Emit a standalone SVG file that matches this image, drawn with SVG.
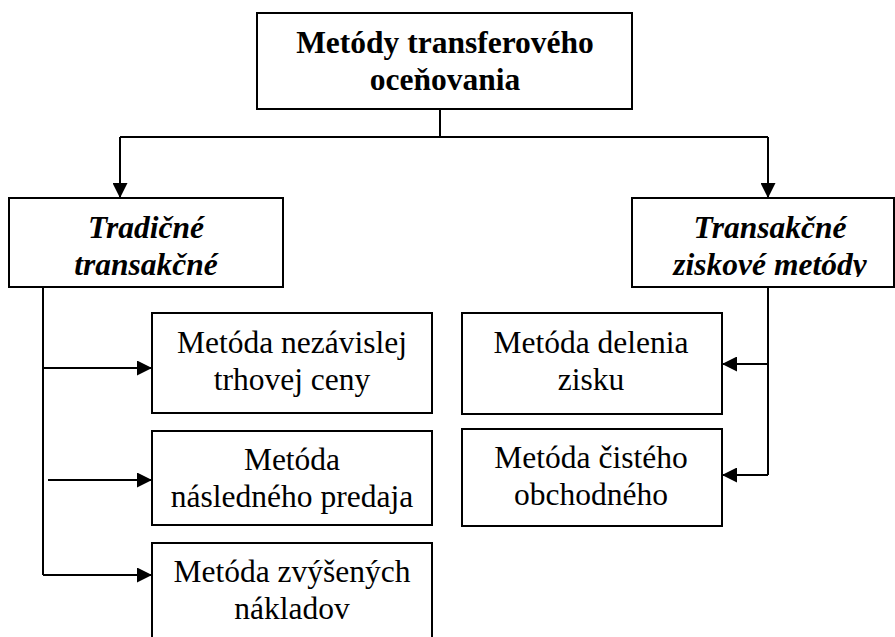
<svg xmlns="http://www.w3.org/2000/svg" width="895" height="637" viewBox="0 0 895 637">
<style>
  .box { fill: #ffffff; stroke: #000000; stroke-width: 2; }
  .ln { fill: none; stroke: #000000; stroke-width: 2; }
</style>
<defs>
  <marker id="arr" markerWidth="15" markerHeight="15" refX="15" refY="7.5" orient="auto" markerUnits="userSpaceOnUse">
    <path d="M0,0 L15,7.5 L0,15 Z" fill="#000000"/>
  </marker>
  <clipPath id="clipR"><rect x="632" y="198" width="263" height="79"/></clipPath>
</defs>
<rect width="895" height="637" fill="#ffffff"/>
<g id="connectors">
  <path class="ln" d="M440,109 V137"/>
  <path class="ln" d="M120,137 H768"/>
  <path class="ln" d="M120,137 V198" marker-end="url(#arr)"/>
  <path class="ln" d="M768,137 V198" marker-end="url(#arr)"/>
  <path class="ln" d="M43,287 V575"/>
  <path class="ln" d="M43,368 H152" marker-end="url(#arr)"/>
  <path class="ln" d="M48,480 H152" marker-end="url(#arr)"/>
  <path class="ln" d="M43,575 H152" marker-end="url(#arr)"/>
  <path class="ln" d="M768,287 V475"/>
  <path class="ln" d="M768,364 H722" marker-end="url(#arr)"/>
  <path class="ln" d="M768,475 H722" marker-end="url(#arr)"/>
</g>
<g id="root" font-family="Liberation Serif" font-size="31.5" font-weight="bold" text-anchor="middle" fill="#000000">
  <rect class="box" x="257" y="13" width="375" height="96"/>
  <text x="445" y="53">Metódy transferového</text>
  <text x="445" y="90">oceňovania</text>
</g>
<g id="traditional" font-family="Liberation Serif" font-size="31.5" font-weight="bold" font-style="italic" text-anchor="middle" fill="#000000">
  <rect class="box" x="9" y="198" width="274" height="89"/>
  <text x="146" y="238">Tradičné</text>
  <text x="146" y="275">transakčné</text>
</g>
<g id="profit" font-family="Liberation Serif" font-size="31.5" font-weight="bold" font-style="italic" text-anchor="middle" fill="#000000">
  <rect class="box" x="632" y="198" width="262" height="89"/>
  <g clip-path="url(#clipR)">
    <text x="770" y="238">Transakčné</text>
    <text x="770" y="275">ziskové metódy</text>
  </g>
</g>
<g id="m1" font-family="Liberation Serif" font-size="31.5" text-anchor="middle" fill="#000000">
  <rect class="box" x="152" y="313" width="280" height="100"/>
  <text x="292" y="353">Metóda nezávislej</text>
  <text x="292" y="390">trhovej ceny</text>
</g>
<g id="m2" font-family="Liberation Serif" font-size="31.5" text-anchor="middle" fill="#000000">
  <rect class="box" x="152" y="431" width="280" height="94"/>
  <text x="292" y="470">Metóda</text>
  <text x="292" y="507">následného predaja</text>
</g>
<g id="m3" font-family="Liberation Serif" font-size="31.5" text-anchor="middle" fill="#000000">
  <rect class="box" x="152" y="543" width="280" height="120"/>
  <text x="292" y="582">Metóda zvýšených</text>
  <text x="292" y="619">nákladov</text>
</g>
<g id="m4" font-family="Liberation Serif" font-size="31.5" text-anchor="middle" fill="#000000">
  <rect class="box" x="462" y="313" width="260" height="101"/>
  <text x="591" y="353">Metóda delenia</text>
  <text x="591" y="390">zisku</text>
</g>
<g id="m5" font-family="Liberation Serif" font-size="31.5" text-anchor="middle" fill="#000000">
  <rect class="box" x="462" y="429" width="260" height="97"/>
  <text x="591" y="468">Metóda čistého</text>
  <text x="591" y="505">obchodného</text>
</g>
</svg>
